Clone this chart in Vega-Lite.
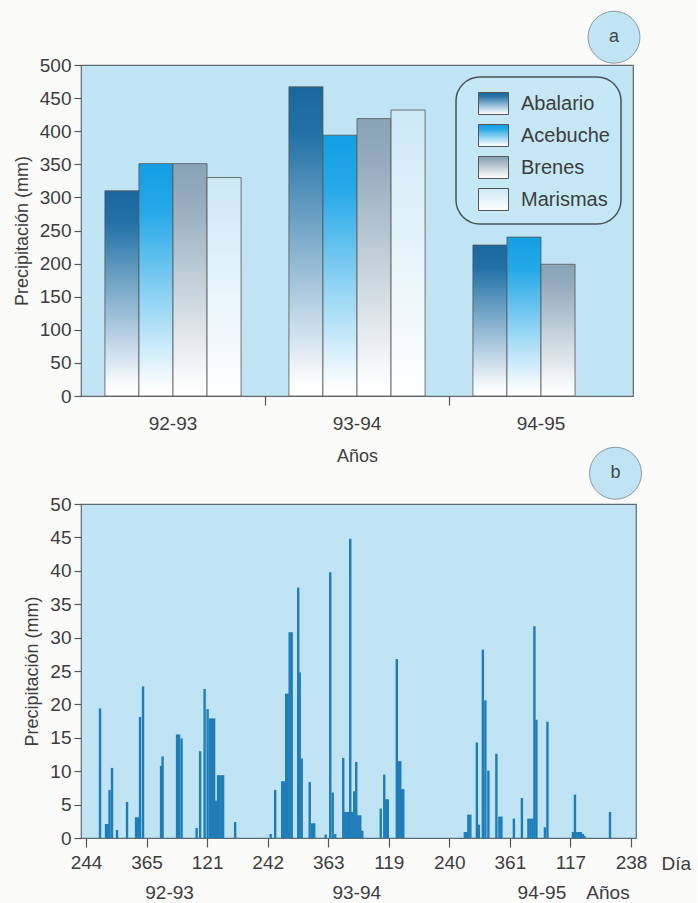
{
  "$schema": "https://vega.github.io/schema/vega-lite/v6.json",
  "background": "#fbfbfa",
  "padding": {"left": 12, "top": 8, "right": 5, "bottom": 5},
  "config": {
    "font": "Liberation Sans",
    "view": {"fill": "#c0e4f3", "stroke": "#5f6b73", "strokeWidth": 1.2},
    "axis": {"labelFont": "Liberation Sans", "labelFontSize": 19, "labelColor": "#3d3d3d", "titleFont": "Liberation Sans", "titleFontSize": 18, "titleColor": "#3d3d3d", "titleFontWeight": "normal", "tickColor": "#555555", "tickWidth": 1.2, "domain": false, "grid": false}
  },
  "datasets": {
    "anual": [
      {"año": "92-93", "estación": "Abalario", "mm": 310},
      {"año": "92-93", "estación": "Acebuche", "mm": 351},
      {"año": "92-93", "estación": "Brenes", "mm": 351},
      {"año": "92-93", "estación": "Marismas", "mm": 330},
      {"año": "93-94", "estación": "Abalario", "mm": 467},
      {"año": "93-94", "estación": "Acebuche", "mm": 394},
      {"año": "93-94", "estación": "Brenes", "mm": 419},
      {"año": "93-94", "estación": "Marismas", "mm": 432},
      {"año": "94-95", "estación": "Abalario", "mm": 228},
      {"año": "94-95", "estación": "Acebuche", "mm": 240},
      {"año": "94-95", "estación": "Brenes", "mm": 199}
    ],
    "diario": [
      {"dia": 28, "mm": 19.4}, {"dia": 40, "mm": 2.1}, {"dia": 44, "mm": 2.1}, {"dia": 47, "mm": 7.2},
      {"dia": 52, "mm": 10.5}, {"dia": 62, "mm": 1.2}, {"dia": 82, "mm": 5.4}, {"dia": 100, "mm": 3.1},
      {"dia": 104, "mm": 3.1}, {"dia": 108, "mm": 18.1}, {"dia": 114, "mm": 22.7}, {"dia": 150, "mm": 10.8},
      {"dia": 153, "mm": 12.2}, {"dia": 182, "mm": 15.5}, {"dia": 186, "mm": 15.5}, {"dia": 191, "mm": 14.9},
      {"dia": 221, "mm": 1.5}, {"dia": 228, "mm": 13.0}, {"dia": 237, "mm": 22.3}, {"dia": 243, "mm": 19.3},
      {"dia": 248, "mm": 17.9}, {"dia": 252, "mm": 17.9}, {"dia": 256, "mm": 17.9}, {"dia": 260, "mm": 5.6},
      {"dia": 264, "mm": 9.4}, {"dia": 267, "mm": 9.4}, {"dia": 271, "mm": 9.4}, {"dia": 274, "mm": 9.4},
      {"dia": 298, "mm": 2.4}, {"dia": 369, "mm": 0.6}, {"dia": 378, "mm": 7.2}, {"dia": 392, "mm": 8.5},
      {"dia": 396, "mm": 8.5}, {"dia": 400, "mm": 21.6}, {"dia": 403, "mm": 21.6}, {"dia": 407, "mm": 30.8},
      {"dia": 411, "mm": 30.8}, {"dia": 424, "mm": 37.5}, {"dia": 427, "mm": 24.8}, {"dia": 431, "mm": 11.9},
      {"dia": 447, "mm": 8.4}, {"dia": 452, "mm": 2.2}, {"dia": 456, "mm": 2.2}, {"dia": 479, "mm": 0.5},
      {"dia": 488, "mm": 39.8}, {"dia": 493, "mm": 6.8}, {"dia": 498, "mm": 0.6}, {"dia": 514, "mm": 12.0},
      {"dia": 518, "mm": 3.9}, {"dia": 522, "mm": 3.9}, {"dia": 525, "mm": 3.9}, {"dia": 528, "mm": 44.8},
      {"dia": 532, "mm": 3.9}, {"dia": 536, "mm": 7.0}, {"dia": 540, "mm": 11.4}, {"dia": 544, "mm": 3.4},
      {"dia": 548, "mm": 3.4}, {"dia": 552, "mm": 1.1}, {"dia": 589, "mm": 4.4}, {"dia": 596, "mm": 9.5},
      {"dia": 600, "mm": 5.8}, {"dia": 603, "mm": 5.8}, {"dia": 621, "mm": 26.8}, {"dia": 625, "mm": 11.5},
      {"dia": 628, "mm": 11.5}, {"dia": 631, "mm": 7.3}, {"dia": 634, "mm": 7.3}, {"dia": 757, "mm": 0.9},
      {"dia": 761, "mm": 0.9}, {"dia": 764, "mm": 3.5}, {"dia": 768, "mm": 3.5}, {"dia": 781, "mm": 14.3},
      {"dia": 785, "mm": 2.0}, {"dia": 793, "mm": 28.2}, {"dia": 798, "mm": 20.6}, {"dia": 804, "mm": 10.1},
      {"dia": 820, "mm": 12.6}, {"dia": 826, "mm": 3.2}, {"dia": 830, "mm": 3.2}, {"dia": 855, "mm": 2.9},
      {"dia": 871, "mm": 6.0}, {"dia": 884, "mm": 2.9}, {"dia": 888, "mm": 2.9}, {"dia": 892, "mm": 2.9},
      {"dia": 896, "mm": 31.7}, {"dia": 900, "mm": 17.7}, {"dia": 917, "mm": 1.6}, {"dia": 922, "mm": 17.4},
      {"dia": 973, "mm": 0.9}, {"dia": 977, "mm": 6.5}, {"dia": 981, "mm": 0.9}, {"dia": 985, "mm": 0.9},
      {"dia": 989, "mm": 0.9}, {"dia": 993, "mm": 0.6}, {"dia": 996, "mm": 0.3}, {"dia": 1047, "mm": 3.9}
    ]
  },
  "bounds": "flush",
  "spacing": 108,
  "resolve": {"legend": {"fill": "independent"}, "scale": {"fill": "independent"}},
  "vconcat": [
    {
      "width": 552,
      "height": 331,
      "encoding": {
        "y": {"field": "mm", "type": "quantitative", "scale": {"domain": [0, 500], "nice": false},
              "axis": {"title": "Precipitación (mm)", "values": [0, 50, 100, 150, 200, 250, 300, 350, 400, 450, 500], "tickSize": 7, "labelPadding": 3, "titlePadding": 8}}
      },
      "layer": [
        {
          "data": {"name": "anual"},
          "mark": {"type": "bar", "stroke": "#555555", "strokeWidth": 0.8},
          "encoding": {
            "x": {"field": "año", "type": "nominal", "scale": {"paddingInner": 0.26, "paddingOuter": 0.13},
                  "axis": {"title": "Años", "labelAngle": 0, "ticks": false, "labelPadding": 18, "titlePadding": 14}},
            "xOffset": {"field": "estación", "type": "nominal", "sort": ["Abalario", "Acebuche", "Brenes", "Marismas"], "scale": {"paddingInner": 0, "paddingOuter": 0}},
            "fill": {
              "field": "estación", "type": "nominal",
              "scale": {
                "domain": ["Abalario", "Acebuche", "Brenes", "Marismas"],
                "range": [
                  {"expr": "{gradient: 'linear', x1: 0, y1: 0, x2: 0, y2: 1, stops: [{offset: 0, color: '#1a679e'}, {offset: 0.15, color: '#2171a7'}, {offset: 0.97, color: '#ffffff'}, {offset: 1, color: '#ffffff'}]}"},
                  {"expr": "{gradient: 'linear', x1: 0, y1: 0, x2: 0, y2: 1, stops: [{offset: 0, color: '#139fe3'}, {offset: 0.2, color: '#24a8e8'}, {offset: 0.97, color: '#ffffff'}, {offset: 1, color: '#ffffff'}]}"},
                  {"expr": "{gradient: 'linear', x1: 0, y1: 0, x2: 0, y2: 1, stops: [{offset: 0, color: '#8aa3b5'}, {offset: 0.15, color: '#93abbc'}, {offset: 0.97, color: '#ffffff'}, {offset: 1, color: '#ffffff'}]}"},
                  {"expr": "{gradient: 'linear', x1: 0, y1: 0, x2: 0, y2: 1, stops: [{offset: 0, color: '#cde9f6'}, {offset: 1, color: '#ffffff'}]}"}
                ]
              },
              "legend": {
                "title": null, "orient": "top-right", "offset": 12,
                "fillColor": "#c6e8f6", "strokeColor": "#4a5258", "cornerRadius": 24,
                "padding": 11, "symbolOffset": 11, "symbolType": "M-1,-0.733H1V0.733H-1Z", "symbolSize": 900,
                "symbolStrokeColor": "#555555", "symbolStrokeWidth": 1,
                "labelFont": "Liberation Sans", "labelFontSize": 20, "labelColor": "#3d3d3d", "labelOffset": 12, "rowPadding": 3,
                "encode": {"legend": {"update": {"strokeWidth": {"value": 1.5}}}}
              }
            }
          }
        },
        {
          "data": {"values": [{"pos": 0.9656, "mm": 542, "etiqueta": "a"}]},
          "encoding": {
            "x": {"field": "pos", "type": "quantitative", "scale": {"domain": [0, 1], "nice": false},
                  "axis": {"orient": "bottom", "values": [0.33333, 0.66667], "labels": false, "ticks": true, "tickSize": 9, "domain": false, "title": null, "grid": false}}
          },
          "layer": [
            {"mark": {"type": "point", "shape": "circle", "size": 2700, "filled": true, "fill": "#c0e4f3", "stroke": "#8c9aa3", "strokeWidth": 1, "opacity": 1}},
            {"mark": {"type": "text", "fontSize": 18, "color": "#444444", "baseline": "middle"}, "encoding": {"text": {"field": "etiqueta"}}}
          ]
        }
      ],
      "resolve": {"scale": {"x": "independent"}, "axis": {"x": "independent"}}
    },
    {
      "width": 555,
      "height": 334,
      "encoding": {
        "y": {"field": "mm", "type": "quantitative", "scale": {"domain": [0, 50], "nice": false},
              "axis": {"title": "Precipitación (mm)", "values": [0, 5, 10, 15, 20, 25, 30, 35, 40, 45, 50], "tickSize": 7, "labelPadding": 3, "titlePadding": 8}}
      },
      "layer": [
        {
          "data": {"name": "diario"},
          "mark": {"type": "bar", "width": 2.4, "color": "#1f7db8"},
          "encoding": {
            "x": {"field": "dia", "type": "quantitative", "scale": {"domain": [0, 1089], "nice": false, "zero": false},
                  "axis": {"values": [0, 121, 242, 363, 484, 605, 726, 847, 968, 1089],
                           "labelExpr": "'' + ((243 + datum.value) % 365 + 1)",
                           "tickSize": 9, "labelPadding": 6, "labelFlush": false, "labelOverlap": false,
                           "title": "Día", "titleAngle": 0, "titleX": 580, "titleY": 25, "titleAlign": "left", "titleBaseline": "middle", "titleFontSize": 19}}
          }
        },
        {
          "data": {"values": [{"dia": 1058, "mm": 54.6, "etiqueta": "b"}]},
          "encoding": {
            "x": {"field": "dia", "type": "quantitative",
                  "axis": {"orient": "bottom", "values": [166, 540, 910, 1042],
                           "labelExpr": "datum.value == 166 ? '92-93' : datum.value == 540 ? '93-94' : datum.value == 910 ? '94-95' : 'Años'",
                           "ticks": false, "domain": false, "labelPadding": 45, "labelFlush": false, "labelOverlap": false, "title": null}}
          },
          "layer": [
            {"mark": {"type": "point", "shape": "circle", "size": 2700, "filled": true, "fill": "#c0e4f3", "stroke": "#8c9aa3", "strokeWidth": 1, "opacity": 1}},
            {"mark": {"type": "text", "fontSize": 18, "color": "#444444", "baseline": "middle"}, "encoding": {"text": {"field": "etiqueta"}}}
          ]
        }
      ],
      "resolve": {"axis": {"x": "independent"}}
    }
  ]
}
